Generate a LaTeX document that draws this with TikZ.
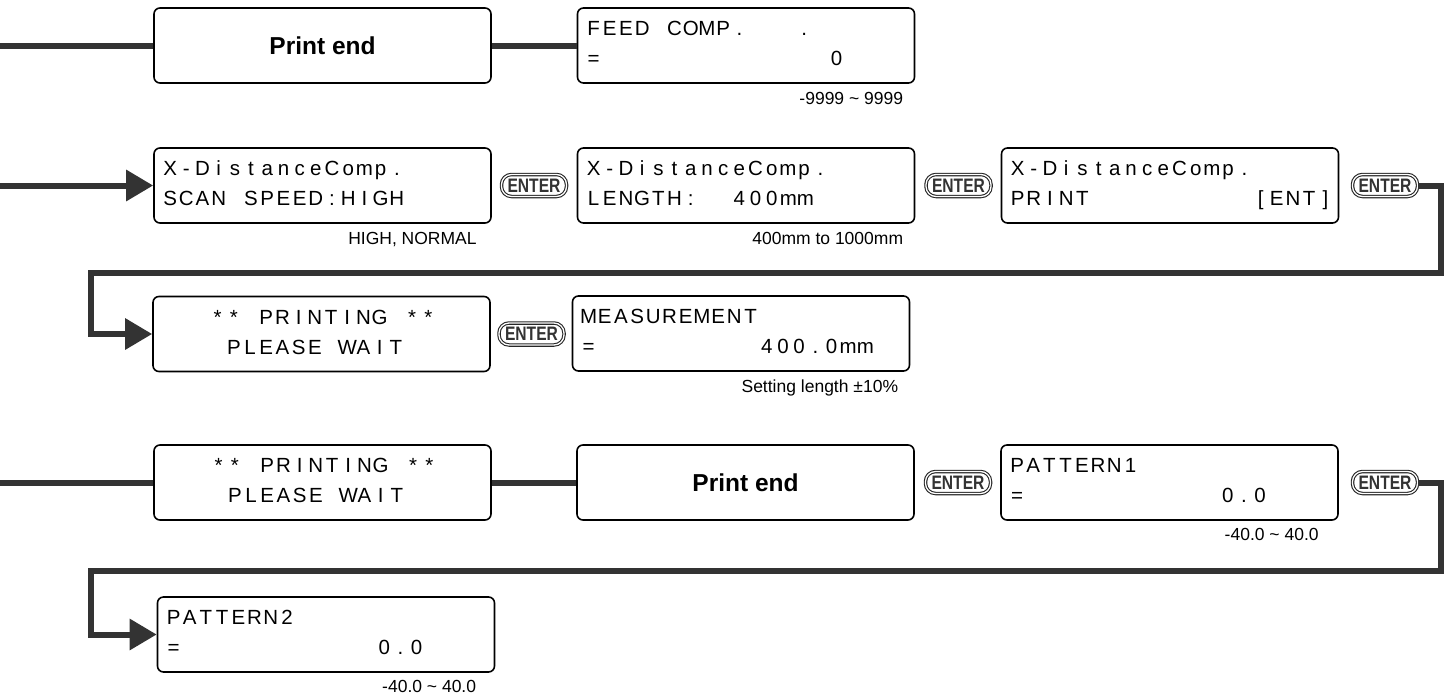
\documentclass[tikz,border=0pt]{standalone}
\usepackage{fontspec}
\usepackage{xcolor}
\setmainfont{Liberation Sans}
\newfontfamily\lcdfont{Liberation Sans}
\newfontfamily\keyfont[FakeStretch=0.8]{Liberation Sans}
\usetikzlibrary{arrows.meta}
\definecolor{flowgray}{HTML}{333333}

% one LCD character per cell
\newlength\lcdpitch
\setlength\lcdpitch{16.2pt}
\ExplSyntaxOn
\NewDocumentCommand \lcdline { m }
  { \tl_map_inline:nn {#1} { \makebox[\lcdpitch][c]{##1} } }
\ExplSyntaxOff
\newcommand\mm{\makebox[\lcdpitch][l]{mm}}
\newcommand\lcd[2]{\rule{0pt}{15pt}\lcdline{#1}\\\lcdline{#2}\rule[-5pt]{0pt}{5pt}}

\begin{document}
\begin{tikzpicture}[x=1pt, y=-1pt,
    lcdbox/.style={draw, line width=1.6pt, rounded corners=6pt, minimum width=337pt, minimum height=75pt, text width=321pt, inner xsep=8pt, inner ysep=0pt, align=left, font=\lcdfont\fontsize{20.5}{30}\selectfont},
    endbox/.style={draw, line width=1.6pt, rounded corners=6pt, minimum width=337pt, minimum height=75pt, font=\bfseries\fontsize{24.5}{29}\selectfont},
    enterkey/.style={draw=black!85, line width=1.1pt, double=white, double distance=1.3pt, rounded corners=10pt, minimum width=65pt, minimum height=22pt, inner sep=0pt, text=flowgray, font=\keyfont\bfseries\fontsize{19.5}{19.5}\selectfont},
    hint/.style={anchor=base east, inner sep=0pt, font=\fontsize{17.5}{20}\selectfont},
    link/.style={draw=flowgray, line width=6pt},
    flow/.style={link, -{Triangle[length=27pt, width=30pt]}}
]
    \useasboundingbox (0,0) rectangle (1450,697);

    % Print end row
    \coordinate (in1) at (0,45.5);
    \node[endbox] (end1) at (322.5,45.5) {Print end};
    \node[lcdbox] (feed) at (746,45.5) {\lcd{FEED~COMP.~~~.}{=~~~~~~~~~~~~~~0}};
    \node[hint] (feedhint) at ([shift={(-12,21)}]feed.south east) {-9999 \textasciitilde{} 9999};

    % X-DistanceComp. row
    \coordinate (in2) at (0,185.5);
    \node[lcdbox] (speed) at (322.5,185.5) {\lcd{X-DistanceComp.}{SCAN~SPEED:HIGH}};
    \node[hint] (speedhint) at ([shift={(-15,21)}]speed.south east) {HIGH, NORMAL};
    \node[enterkey] (key1) at (534,185.5) {ENTER};
    \node[lcdbox] (length) at (746,185.5) {\lcd{X-DistanceComp.}{LENGTH:~~400\mm}};
    \node[hint] (lengthhint) at ([shift={(-12,21)}]length.south east) {400mm to 1000mm};
    \node[enterkey] (key2) at (958.5,185.5) {ENTER};
    \node[lcdbox] (print) at (1170,185.5) {\lcd{X-DistanceComp.}{PRINT~~~~~~~~~~[ENT]}};
    \node[enterkey] (key3) at (1385,185.5) {ENTER};

    % Printing / measurement row
    \node[lcdbox] (wait1) at (321.5,334) {\lcd{~~~**~PRINTING~**}{~~~~PLEASE~WAIT}};
    \node[enterkey] (key4) at (531.5,334) {ENTER};
    \node[lcdbox] (measure) at (741,333.5) {\lcd{MEASUREMENT}{=~~~~~~~~~~400.0\mm}};
    \node[hint] (measurehint) at ([shift={(-12,21)}]measure.south east) {Setting length ±10\%};

    % Pattern row
    \coordinate (in4) at (0,482.5);
    \node[lcdbox] (wait2) at (322.5,482.5) {\lcd{~~~**~PRINTING~**}{~~~~PLEASE~WAIT}};
    \node[endbox] (end2) at (745.5,482.5) {Print end};
    \node[enterkey] (key5) at (958,482.5) {ENTER};
    \node[lcdbox] (pat1) at (1169.5,482.5) {\lcd{PATTERN1}{=~~~~~~~~~~~~0.0}};
    \node[hint] (pat1hint) at ([shift={(-20,20)}]pat1.south east) {-40.0 \textasciitilde{} 40.0};
    \node[enterkey] (key6) at (1385,482.5) {ENTER};
    \node[lcdbox] (pat2) at (326,634.5) {\lcd{PATTERN2}{=~~~~~~~~~~~~0.0}};
    \node[hint] (pat2hint) at ([shift={(-19,20)}]pat2.south east) {-40.0 \textasciitilde{} 40.0};

    % Connectors
    \coordinate (turn1) at (1441,273);
    \coordinate (back1) at (90.5,273);
    \coordinate (turn2) at (1441,570.5);
    \coordinate (back2) at (90.5,570.5);
    \draw[link] (in1) -- (end1.west);
    \draw[link] (end1.east) -- (feed.west);
    \draw[flow] (in2) -- (speed.west);
    \draw[flow] (key3.east) -| (turn1) -- (back1) |- (wait1.west);
    \draw[link] (in4) -- (wait2.west);
    \draw[link] (wait2.east) -- (end2.west);
    \draw[flow] (key6.east) -| (turn2) -- (back2) |- (pat2.west);
\end{tikzpicture}
\end{document}
